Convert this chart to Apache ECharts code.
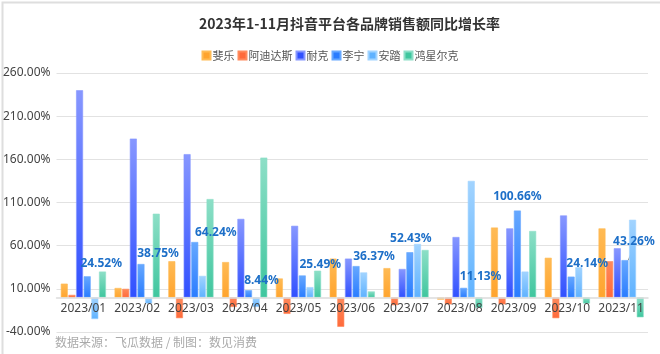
<!DOCTYPE html>
<html>
<head>
<meta charset="utf-8">
<script src="https://cdn.jsdelivr.net/npm/echarts@6/dist/echarts.min.js"></script>
<style>
html,body{margin:0;padding:0;background:#fff;}
#main{width:660px;height:354px;}
</style>
</head>
<body>
<div id="main"></div>
<script>
// ---- data ----
const categories = ['2023/01','2023/02','2023/03','2023/04','2023/05','2023/06','2023/07','2023/08','2023/09','2023/10','2023/11'];
const seriesNames = ['斐乐','阿迪达斯','耐克','李宁','安踏','鸿星尔克'];
const fila   = [16, 11, 42, 41, 22, 45, 34, -2.5, 81, 46, 80];
const adidas = [3, 10, -24, -11, -19, -34, -9, -8, -8, -24, 42];
const nike   = [240, 184, 166, 91, 83, 45, 33, 70, 80, 95, 57];
const lining = [24.52, 38.75, 64.24, 8.44, 25.49, 36.37, 52.43, 11.13, 100.66, 24.14, 43.26];
const anta   = [-25, -7, 25, -11, 12, 29, 62, 135, 30, 35, 90];
const erke   = [30, 97, 114, 162, 31, 7, 55, -12, 77, -7, -23];
const yTicks = [-40, 10, 60, 110, 160, 210, 260];
const titleText = '2023年1-11月抖音平台各品牌销售额同比增长率';
const sourceText = '数据来源：飞瓜数据 / 制图：数见消费';

// ---- styling ----
const palette = [
  ['#ffbb55', '#ffa42e'],
  ['#ff8a5c', '#ff6a3a'],
  ['#8797ff', '#3050ff'],
  ['#66a8ff', '#2a7cff'],
  ['#a2d4ff', '#5fb2ff'],
  ['#8ddfc7', '#3fc69e']
];
const labelNudge = [[14,-2],[17,1],[21,2],[13,1],[18,0],[18,2],[1,-3],[17,0],[0,-3],[16,-2],[9,-8]];

function grad(c){
  return new echarts.graphic.LinearGradient(0,0,0,1,[{offset:0,color:c[0]},{offset:1,color:c[1]}]);
}
const allData = [fila, adidas, nike, lining, anta, erke];
const series = allData.map((arr, i) => {
  const s = {
    name: seriesNames[i],
    type: 'bar',
    barGap: '10%',
    barCategoryGap: '16%',
    itemStyle: { color: grad(palette[i]), borderColor: palette[i][0], borderWidth: 0.6 },
    data: arr.map((v, j) => {
      if (i === 3 && j === 10) return { value: v, labelLine: { show: true } };
      return v;
    }),
    z: 2
  };
  if (i === 3) {
    s.label = {
      show: true, position: 'top', distance: 5,
      color: '#1d6fc8', fontWeight: 'bold', fontSize: 12,
      formatter: p => p.value.toFixed(2) + '%'
    };
    s.labelLine = { show: false, lineStyle: { color: '#999', width: 1 } };
    s.labelLayout = function (p) {
      const n = labelNudge[p.dataIndex] || [0, 0];
      return { dx: n[0], dy: n[1] };
    };
  }
  return s;
});

const chart = echarts.init(document.getElementById('main'));
chart.setOption({
  animation: false,
  textStyle: { fontFamily: "'Noto Sans', 'Noto Sans CJK SC', sans-serif" },
  title: {
    text: titleText, left: 194, top: 12,
    textStyle: { fontSize: 14, fontWeight: 'bold', color: '#333', fontFamily: "'Noto Sans CJK SC', sans-serif" }
  },
  legend: {
    top: 45, left: 'center', itemWidth: 8, itemHeight: 8, itemGap: 3,
    icon: 'rect',
    textStyle: { fontSize: 11, color: '#555', padding: [0, 0, 0, -3], fontFamily: "'Noto Sans CJK SC', sans-serif" },
    data: seriesNames.map((n, i) => ({ name: n, itemStyle: { color: palette[i][1] } }))
  },
  grid: { left: 53, right: 12, top: 73, bottom: 22, containLabel: false },
  xAxis: {
    type: 'category', data: categories, z: 5,
    axisLine: { onZero: true, lineStyle: { color: '#dcdcdc', width: 1.5 } },
    axisTick: { show: false },
    axisLabel: { color: '#444', fontSize: 12, margin: -29, interval: 0 }
  },
  yAxis: {
    type: 'value', min: yTicks[0], max: yTicks[yTicks.length - 1], interval: 50,
    axisLine: { show: false }, axisTick: { show: false },
    splitLine: { lineStyle: { color: '#e2e2e2', width: 1.2 } },
    axisLabel: { color: '#444', fontSize: 12, margin: 6, formatter: v => v.toFixed(2) + '%' }
  },
  graphic: [
    { type: 'rect', left: 0, top: 0, shape: { x: 0.5, y: 0.5, width: 659, height: 353 }, style: { fill: 'none', stroke: '#dedede', lineWidth: 2 }, silent: true },
    { type: 'text', left: 55, top: 336, style: { text: sourceText, fill: '#aaa', fontSize: 12, fontFamily: "'Noto Sans CJK SC', sans-serif" } }
  ],
  series: series
});
</script>
</body>
</html>
